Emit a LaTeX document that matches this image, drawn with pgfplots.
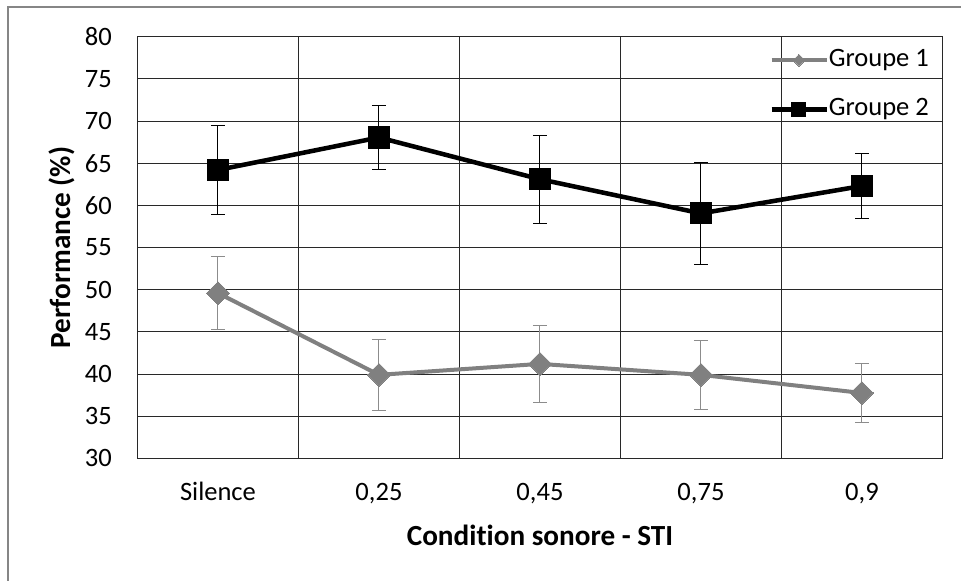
\documentclass[border=0pt]{standalone}
\usepackage{pgfplots}
\pgfplotsset{compat=1.18}
\usepackage{fontspec}
\setmainfont[Ligatures=CommonOff]{Carlito}
\definecolor{gone}{RGB}{128,128,128}
\definecolor{errg}{RGB}{140,140,140}
\definecolor{framegray}{RGB}{134,134,134}
\definecolor{gridc}{RGB}{40,40,40}
\begin{document}
\begin{tikzpicture}
\path[use as bounding box] (0,0) rectangle (720.75bp,435.75bp);
\draw[framegray, line width=1.5bp] (6bp,0) -- (6bp,430.5bp) -- (720.75bp,430.5bp);
\begin{axis}[
  at={(103.1bp,92bp)}, anchor=south west,
  scale only axis, width=603.75bp, height=316.2bp,
  xmin=-0.5, xmax=4.5, ymin=30, ymax=80,
  xtick={0,...,4}, xticklabels={Silence,{0,25},{0,45},{0,75},{0,9}},
  minor xtick={-0.5,0.5,...,4.5},
  ytick={30,35,...,80},
  major tick length=0pt, minor tick length=0pt,
  xminorgrids, ymajorgrids,
  grid style={gridc, line width=0.75bp},
  minor grid style={gridc, line width=0.75bp},
  axis line style={gridc, line width=0.75bp},
  tick label style={font=\fontsize{19.9bp}{24bp}\selectfont, inner sep=0pt},
  /pgf/number format/assume math mode=true,
  yticklabel style={anchor=east, xshift=-19.1bp},
  xticklabel style={anchor=base, yshift=-31.3bp},
  label style={font=\fontsize{21.9bp}{26bp}\selectfont\bfseries},
  xlabel={Condition sonore - STI},
  ylabel={Performance (\%)},
  xlabel style={at={(axis description cs:0.5,-0.1819)}, anchor=center},
  ylabel style={at={(axis description cs:-0.0938,0.5)}, anchor=center},
  legend style={at={(rel axis cs:1,1)}, anchor=north east, xshift=-10bp, yshift=-8bp,
    draw=none, fill=none, inner sep=0pt, row sep=17.75bp,
    font=\fontsize{19.9bp}{24bp}\selectfont,
    nodes={inner sep=0pt, text height=14bp, text depth=5bp}},
  legend cell align=left,
  legend image code/.code={\draw[mark repeat=2, mark phase=2, #1] plot coordinates {(0bp,0bp) (20.6bp,0bp) (41.25bp,0bp)};},
]
\addplot[gone, line width=3bp, line join=round, mark=square*, mark size=6.1bp,
  mark options={rotate=45, solid, fill=gone, draw=gone, line width=0pt},
  legend image post style={mark size=3.1bp},
  error bars/.cd, y dir=both, y explicit,
  error bar style={errg, line width=0.75bp},
  error mark options={errg, line width=0.75bp, mark size=5.25bp, rotate=90}]
coordinates {
(0,49.6) +- (0,4.3)
(1,39.9) +- (0,4.25)
(2,41.2) +- (0,4.6)
(3,39.9) +- (0,4.1)
(4,37.75) +- (0,3.5)
};
\addlegendentry{Groupe 1}
\addplot[black, line width=3.4bp, line join=round, mark=square*, mark size=7.9bp,
  mark options={solid, fill=black, draw=black, line width=0pt},
  legend image post style={mark size=5.25bp},
  error bars/.cd, y dir=both, y explicit,
  error bar style={black, line width=0.75bp},
  error mark options={black, line width=0.75bp, mark size=5.25bp, rotate=90}]
coordinates {
(0,64.2) +- (0,5.3)
(1,68.05) +- (0,3.8)
(2,63.1) +- (0,5.2)
(3,59.05) +- (0,6.05)
(4,62.3) +- (0,3.9)
};
\addlegendentry{Groupe 2}
\end{axis}
\end{tikzpicture}
\end{document}
